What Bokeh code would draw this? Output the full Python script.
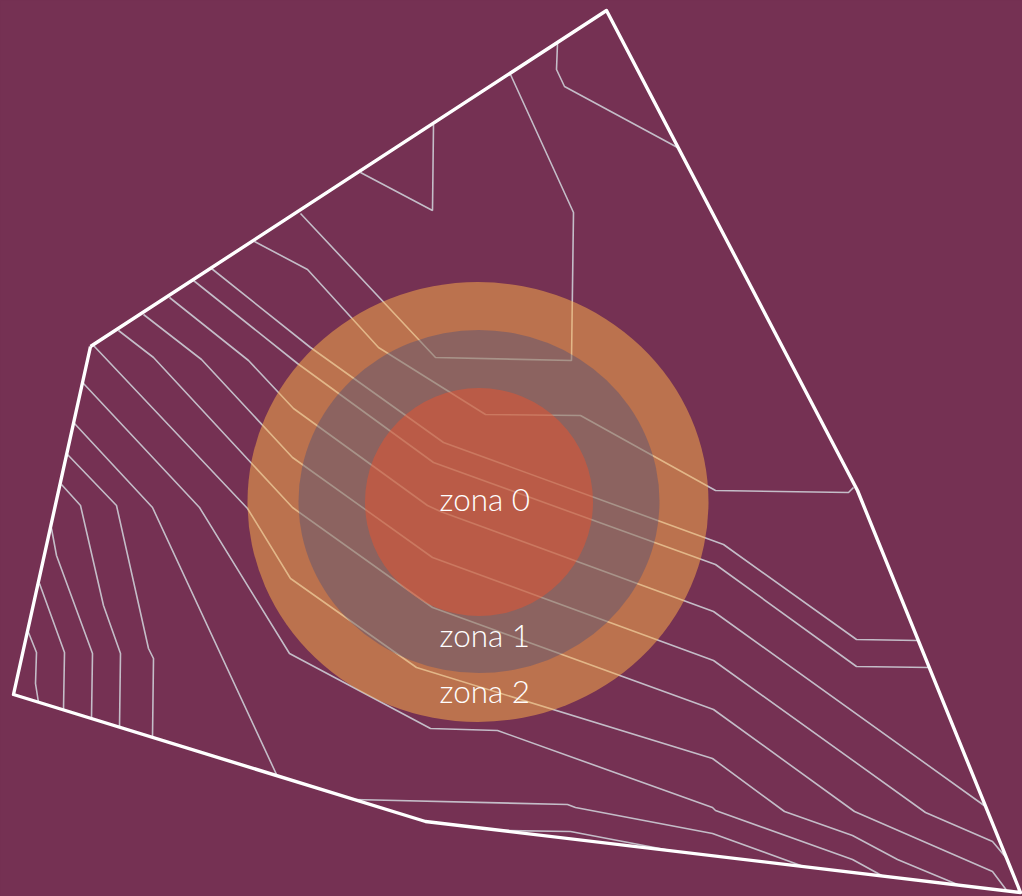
from bokeh.plotting import figure
from bokeh.models import Range1d
from bokeh.core.properties import value
from bokeh.embed import file_html
from bokeh.resources import INLINE

boundary_x = [90, 606, 857, 1020, 425, 13, 90]
boundary_y = [346, 10, 490, 892, 821, 694, 346]

contours = [
    ([28, 36, 35, 38], [632, 652, 683, 702]),
    ([39, 64, 63], [583, 652, 709]),
    ([51, 56, 92, 91], [528, 555, 653, 718]),
    ([61, 80, 103, 120, 119], [484, 505, 605, 653, 727]),
    ([67, 116, 148, 153, 152], [454, 505, 648, 658, 737]),
    ([74, 152, 276], [423, 507, 774]),
    ([83, 199, 289, 430, 497, 712, 715, 852, 883], [383, 507, 653, 728, 730, 807, 810, 859, 876]),
    ([93, 247, 290, 416, 712, 784, 852, 897, 957], [345, 508, 578, 667, 758, 811, 835, 859, 884]),
    ([118, 153, 292, 432, 713, 854, 992, 1007], [330, 357, 507, 607, 709, 811, 871, 891]),
    ([143, 201, 292, 432, 713, 925, 992, 1008], [314, 359, 457, 557, 660, 812, 841, 860]),
    ([169, 248, 293, 427, 440, 713, 985], [297, 360, 408, 505, 511, 611, 806]),
    ([193, 297, 433, 715, 856, 929], [280, 363, 462, 564, 666, 667]),
    ([211, 310, 443, 723, 856, 917], [268, 347, 442, 544, 639, 640]),
    ([254, 307, 378, 485, 580, 715, 848, 853], [241, 269, 347, 414, 415, 490, 492, 487]),
    ([300, 435, 571, 573, 510], [213, 357, 360, 212, 74]),
    ([360, 432, 433], [172, 210, 124]),
    ([557, 556, 564, 677], [43, 69, 86, 147]),
    ([353, 567, 575, 712, 803], [799, 804, 807, 833, 866]),
    ([501, 570, 675], [830, 831, 851]),
]
contour_x = [c[0] for c in contours]
contour_y = [c[1] for c in contours]

zone_x = [477.5, 478.5, 478.5]
zone_y = [501.5, 501, 501.5]
zone_w = [461, 361, 228]
zone_h = [440, 343, 228]
zone_colors = ["#ffb04b", "#22428a", "#ff5023"]
zone_alpha = [0.51, 0.3, 0.4]

label_text = ["zona 0", "zona 1", "zona 2"]
label_x = [439, 439, 439]
label_y = [498, 634, 690]

BG = "#753153"
p = figure(width=1022, height=896, x_range=Range1d(0, 1022), y_range=Range1d(896, 0),
           output_backend="svg", toolbar_location=None, min_border=0,
           background_fill_color=BG, border_fill_color=BG, outline_line_color=None)
p.axis.visible = False
p.grid.visible = False

p.multi_line(contour_x, contour_y, line_color="#c4bdc8", line_width=1.6)
p.line(boundary_x, boundary_y, line_color="#ffffff", line_width=3.4, line_join="round")
for i in range(3):
    p.ellipse([zone_x[i]], [zone_y[i]], width=[zone_w[i]], height=[zone_h[i]],
              fill_color=zone_colors[i], fill_alpha=zone_alpha[i], line_color=None)
p.text(label_x, label_y, text=label_text, text_color="#ffffff", text_font=value("Lato Light"),
       text_font_size="31.5px", text_baseline="alphabetic", text_align="left")

html = file_html(p, INLINE)
html = html.replace("<body>", '<body style="background:%s">' % BG)
open("out.html", "w").write(html)
